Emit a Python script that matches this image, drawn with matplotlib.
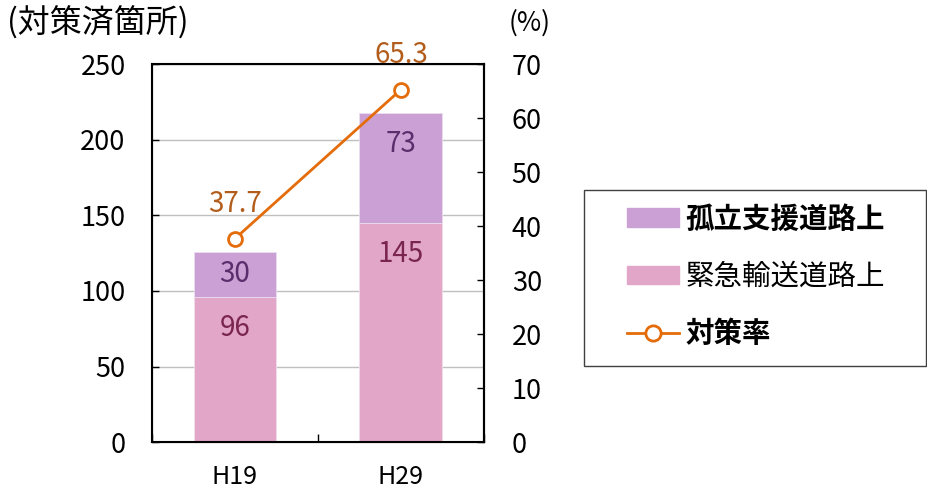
import matplotlib.pyplot as plt
from matplotlib.lines import Line2D
from matplotlib.patches import Patch, Rectangle

plt.rcParams['font.family'] = ['Noto Sans CJK JP', 'DejaVu Sans']

# data
years = ['H19', 'H29']
emergency_road = [96, 145]     # 緊急輸送道路上
isolated_road = [30, 73]       # 孤立支援道路上
rate = [37.7, 65.3]            # 対策率 (%)

c_iso = '#CBA1D5'
c_emg = '#E1A6C8'
c_line = '#E46C0A'

fig = plt.figure(figsize=(9.27, 4.94), dpi=100)
ax = fig.add_axes([0.164, 0.105, 0.358, 0.765])
ax2 = ax.twinx()

x = list(range(len(years)))
ax.bar(x, emergency_road, width=0.5, color=c_emg, edgecolor='#F3DDEA', linewidth=0.6, zorder=2)
ax.bar(x, isolated_road, width=0.5, bottom=emergency_road, color=c_iso,
       edgecolor='#EBDDF0', linewidth=0.6, zorder=2)

# value labels inside the bars
for i in x:
    top1 = emergency_road[i]
    ax.text(i, top1 - min(20.5, top1 / 2), str(emergency_road[i]), ha='center', va='center',
            fontsize=20, color='#7A2450', zorder=3)
    top2 = emergency_road[i] + isolated_road[i]
    ax.text(i, top2 - min(20.5, isolated_road[i] / 2), str(isolated_road[i]), ha='center',
            va='center', fontsize=20, color='#5A2D6C', zorder=3)

ax.set_ylim(0, 250)
ax.set_xlim(-0.5, 1.5)
ax.set_yticks(range(0, 251, 50))
ax.yaxis.grid(True, color='#C0C0C0', linewidth=1.0)
ax.set_axisbelow(True)
ax.tick_params(axis='y', direction='in', length=5, pad=19, labelsize=19.5, width=1)
ax.set_xticks([-0.5, 0.5, 1.5])
ax.set_xticklabels([])
ax.set_xticks(x, minor=True)
ax.set_xticklabels(years, minor=True)
ax.tick_params(axis='x', which='major', direction='in', length=6, width=1)
ax.tick_params(axis='x', which='minor', length=0, pad=16, labelsize=18)
for s in ax.spines.values():
    s.set_linewidth(1.5)

ax2.plot(x, rate, color=c_line, linewidth=2, marker='o', markersize=10,
         markerfacecolor='white', markeredgewidth=2, zorder=4)
for i in x:
    ax2.annotate(f'{rate[i]:.1f}', (i, rate[i]), xytext=(0, 25), textcoords='offset points',
                 ha='center', va='center', fontsize=20, color='#B35D1C')
ax2.set_ylim(0, 70)
ax2.set_yticks(range(0, 71, 10))
ax2.tick_params(axis='y', direction='in', length=5, pad=20, labelsize=19.5, width=1)
ax2.spines['right'].set_linewidth(1.5)

fig.text(0.008, 0.953, '(対策済箇所)', fontsize=23, ha='left', va='center')
fig.text(0.549, 0.953, '(%)', fontsize=19, ha='left', va='center')

# legend frame
fig.patches.append(Rectangle((0.630, 0.259), 0.369, 0.356, transform=fig.transFigure,
                             facecolor='white', edgecolor='#404040', linewidth=1.0))
handles = [Patch(color=c_iso), Patch(color=c_emg),
           Line2D([], [], color=c_line, linewidth=2, marker='o', markersize=11,
                  markerfacecolor='white', markeredgewidth=2)]
labels = ['孤立支援道路上', '緊急輸送道路上', '対策率']
leg = fig.legend(handles, labels, loc='upper left', bbox_to_anchor=(0.676, 0.584),
                 fontsize=20.5, frameon=False, handlelength=1.85, handleheight=0.6,
                 labelspacing=1.0, borderpad=0, handletextpad=0.22, borderaxespad=0)
for t, w in zip(leg.get_texts(), ['bold', 'normal', 'bold']):
    t.set_fontweight(w)

fig.savefig('out.png', dpi=100)
